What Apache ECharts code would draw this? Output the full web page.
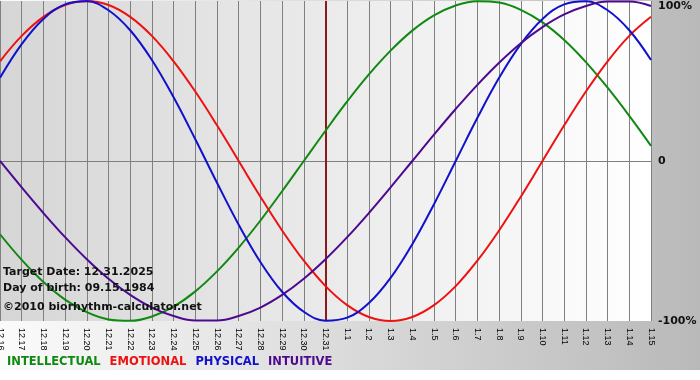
<!DOCTYPE html>
<html>
<head>
<meta charset="utf-8">
<script src="https://cdn.jsdelivr.net/npm/echarts@6/dist/echarts.min.js"></script>
<style>
html,body{margin:0;padding:0;background:#fff;}
#chart{width:700px;height:380px;}
</style>
</head>
<body>
<div id="chart"></div>
<script>
// ---- data ----
var dates = ["12.16","12.17","12.18","12.19","12.20","12.21","12.22","12.23","12.24","12.25","12.26","12.27","12.28","12.29","12.30","12.31",
             "1.1","1.2","1.3","1.4","1.5","1.6","1.7","1.8","1.9","1.10","1.11","1.12","1.13","1.14","1.15"];
var intellectual = [-45.8,-61.8,-75.6,-86.6,-94.5,-99.0,-99.9,-97.2,-91.0,-81.5,-69.0,-54.1,-37.2,-18.9,0,18.9,
                    37.2,54.1,69.0,81.5,91.0,97.2,99.9,99.0,94.5,86.6,75.6,61.8,45.8,28.2,9.5];
var emotional = [62.3,78.2,90.1,97.5,100,97.5,90.1,78.2,62.3,43.4,22.3,0,-22.3,-43.4,-62.3,-78.2,
                 -90.1,-97.5,-100,-97.5,-90.1,-78.2,-62.3,-43.4,-22.3,0,22.3,43.4,62.3,78.2,90.1];
var physical = [52.0,73.1,88.8,97.9,99.8,94.2,81.7,63.1,39.8,13.6,-13.6,-39.8,-63.1,-81.7,-94.2,-99.8,
                -97.9,-88.8,-73.1,-52.0,-27.0,0,27.0,52.0,73.1,88.8,97.9,99.8,94.2,81.7,63.1];
var intuitive = [0,-16.5,-32.5,-47.6,-61.4,-73.6,-83.7,-91.6,-96.9,-99.7,-99.7,-96.9,-91.6,-83.7,-73.6,-61.4,
                 -47.6,-32.5,-16.5,0,16.5,32.5,47.6,61.4,73.6,83.7,91.6,96.9,99.7,99.7,96.9];
var seriesNames = ["INTELLECTUAL","EMOTIONAL","PHYSICAL","INTUITIVE"];
var seriesColors = ["#118811","#ee1111","#1111cc","#4d0a8f"];
var targetDate = "12.31";
var infoLines = ["Target Date: 12.31.2025","Day of birth: 09.15.1984","\u00A92010 biorhythm-calculator.net"];

var chart = echarts.init(document.getElementById('chart'), null, {renderer:'canvas'});
var values = [intellectual, emotional, physical, intuitive];
var series = seriesNames.map(function(n,i){
  var s = {
    name:n, type:'line', data:values[i], showSymbol:false, smooth:0.4,
    lineStyle:{width:2,color:seriesColors[i]}, itemStyle:{color:seriesColors[i]},
    z: 3+i, silent:true
  };
  if(i===0){
    s.markLine = {silent:true, symbol:['none','none'], z:2, label:{show:false},
      lineStyle:{color:'#8b1a1a',width:2,type:'solid'},
      data:[{xAxis:targetDate}]};
  }
  return s;
});

var option = {
  animation:false,
  backgroundColor:'#ffffff',
  graphic:[
    {type:'rect', z:-10, silent:true, shape:{x:0,y:0,width:700,height:370},
     style:{fill:{type:'linear',x:0,y:0,x2:1,y2:0,colorStops:[{offset:0,color:'#fbfbfb'},{offset:1,color:'#b9b9b9'}]}}},
    {type:'text', z:100, left:3, top:267, style:{text:infoLines[0], font:'bold 11px "DejaVu Sans"', fill:'#111'}},
    {type:'text', z:100, left:3, top:283, style:{text:infoLines[1], font:'bold 11px "DejaVu Sans"', fill:'#111'}},
    {type:'text', z:100, left:3, top:302, style:{text:infoLines[2], font:'bold 11px "DejaVu Sans"', fill:'#111'}}
  ],
  grid:{left:0, top:1, width:651, height:320, show:true, borderWidth:0, containLabel:false, outerBoundsMode:'none',
    backgroundColor:{type:'linear',x:0,y:0,x2:1,y2:0,colorStops:[{offset:0,color:'#d6d6d6'},{offset:1,color:'#ffffff'}]}},
  legend:{
    left:2, top:356, padding:0, icon:'none', itemWidth:0, itemHeight:12, itemGap:4, selectedMode:false,
    data: seriesNames.map(function(n,i){return {name:n, textStyle:{color:seriesColors[i]}};}),
    textStyle:{fontFamily:'DejaVu Sans', fontWeight:'bold', fontSize:11.5}
  },
  xAxis:{
    type:'category', data:dates, boundaryGap:false,
    axisLine:{show:true, lineStyle:{color:'#808080',width:1}},
    axisTick:{show:true, length:5, interval:0, lineStyle:{color:'#808080'}},
    splitLine:{show:true, interval:0, lineStyle:{color:'#808080',width:1}},
    axisLabel:{rotate:-90, interval:0, margin:7, fontSize:9, fontFamily:'Liberation Sans', color:'#000'}
  },
  yAxis:{
    type:'value', position:'right', min:-100, max:100, interval:100,
    axisLine:{show:false}, axisTick:{show:false},
    splitLine:{show:true, lineStyle:{color:['rgba(0,0,0,0)','#808080','rgba(0,0,0,0)'],width:1}},
    axisLabel:{margin:7, fontSize:11, fontWeight:'bold', fontFamily:'DejaVu Sans', color:'#111',
      verticalAlignMaxLabel:'top',
      formatter:function(v){return v===0?'0':v+'%';}}
  },
  series:series
};
chart.setOption(option);
</script>
</body>
</html>
